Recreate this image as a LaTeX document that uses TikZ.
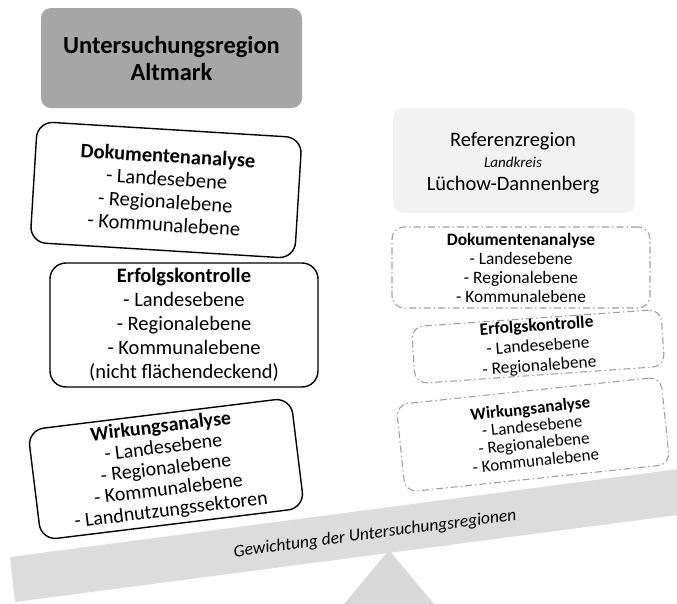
\documentclass[tikz,border=0pt]{standalone}
\usepackage{fontspec}
\setmainfont{Carlito}
\definecolor{darkbox}{HTML}{A6A6A6}
\definecolor{lightbox}{HTML}{F2F2F2}
\definecolor{beamgray}{HTML}{DCDCDC}
\definecolor{fulcrum}{HTML}{D9D9D9}
\definecolor{dashgray}{HTML}{A0A0A0}
\tikzset{
  solidbox/.style={draw=black, line width=1.4pt, rounded corners=16pt, fill=white, align=center, inner sep=0pt},
  dashbox/.style={draw=dashgray, line width=1.1pt, dash pattern=on 7pt off 3pt on 1.5pt off 3pt, rounded corners=12pt, align=center, inner sep=0pt},
  headbox/.style={rounded corners=10pt, inner sep=0pt, align=center},
  bigtxt/.style={font=\fontsize{20.5}{#1}\selectfont},
  smalltxt/.style={font=\fontsize{17.4}{#1}\selectfont}
}
\begin{document}
\begin{tikzpicture}[x=1pt,y=-1pt]
\useasboundingbox (0,0) rectangle (677,603);
\begin{scope}
\clip (0,0) rectangle (677,603);
\fill[beamgray] (10,557) -- (700,466.2) -- (706,511.3) -- (15,602) -- cycle;
\fill[fulcrum] (389,550) -- (339,610) -- (439,610) -- cycle;
\end{scope}
\node[rotate=7.5, font=\fontsize{17.5}{20}\selectfont\itshape] (beamlabel) at (375,534) {Gewichtung der Untersuchungsregionen};

% headers
\node[headbox, fill=darkbox, minimum width=261pt, minimum height=100pt, font=\fontsize{24.5}{27}\selectfont\bfseries] (alt) at (171.5,58) {Untersuchungsregion\\Altmark};
\node[headbox, fill=lightbox, minimum width=242pt, minimum height=105pt] (ref) at (514,160.5) {};
\node[anchor=base, font=\fontsize{20.5}{24}\selectfont] (ref1) at (513,146.5) {Referenzregion};
\node[anchor=base, font=\fontsize{15}{18}\selectfont\itshape] (ref2) at (513,167) {Landkreis};
\node[anchor=base, font=\fontsize{20.5}{24}\selectfont] (ref3) at (513,190) {Lüchow-Dannenberg};

% left column
\node[solidbox, bigtxt=23, rotate=-3.5, minimum width=265pt, minimum height=121pt] (ldoc) at (166,190)
  {\textbf{Dokumentenanalyse}\\- Landesebene\\- Regionalebene\\- Kommunalebene};
\node[solidbox, bigtxt=24, minimum width=268pt, minimum height=124pt] (lerf) at (184,325)
  {\textbf{Erfolgskontrolle}\\- Landesebene\\- Regionalebene\\- Kommunalebene\\(nicht flächendeckend)};
\node[solidbox, font=\fontsize{20}{21}\selectfont, rotate=7, minimum width=265pt, minimum height=111pt] (lwir) at (166,469)
  {\textbf{Wirkungsanalyse}\\- Landesebene\\- Regionalebene\\- Kommunalebene\\- Landnutzungssektoren};

% right column
\node[dashbox, smalltxt=19, minimum width=258pt, minimum height=81pt] (rdoc) at (521,267.5)
  {\textbf{Dokumentenanalyse}\\- Landesebene\\- Regionalebene\\- Kommunalebene};
\node[dashbox, smalltxt=20, rotate=4, minimum width=250pt, minimum height=57pt] (rerf) at (538,346.5)
  {\textbf{Erfolgskontrolle}\\- Landesebene\\- Regionalebene};
\node[dashbox, font=\fontsize{17}{17.5}\selectfont, rotate=6, minimum width=266pt, minimum height=88pt] (rwir) at (533,434.5)
  {\textbf{Wirkungsanalyse}\\- Landesebene\\- Regionalebene\\- Kommunalebene};
\end{tikzpicture}
\end{document}
